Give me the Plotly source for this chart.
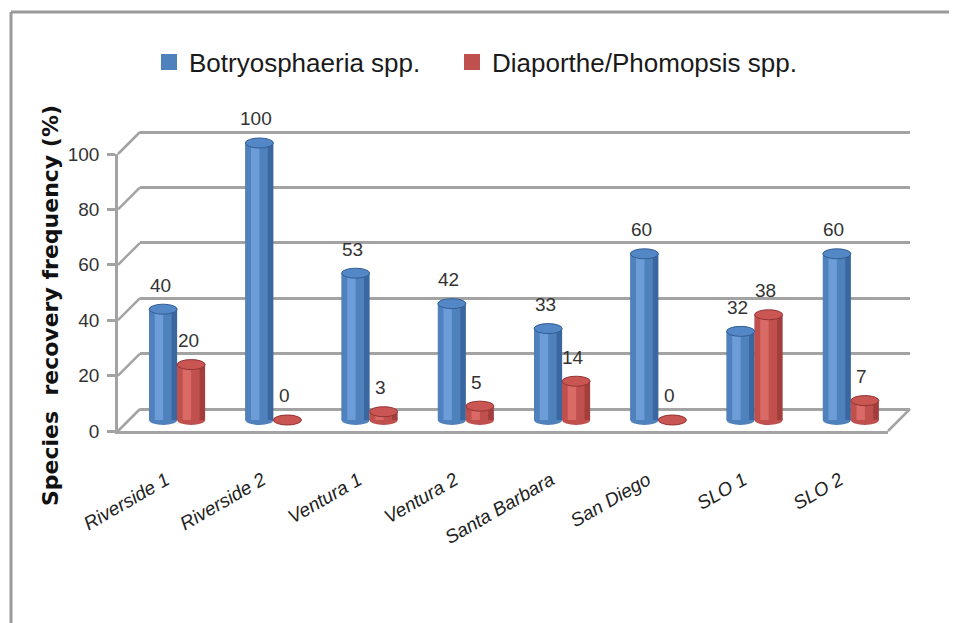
import plotly.graph_objects as go

# ---------------- data ----------------
categories = ["Riverside 1", "Riverside 2", "Ventura 1", "Ventura 2",
              "Santa Barbara", "San Diego", "SLO 1", "SLO 2"]
botryo = [40, 100, 53, 42, 33, 60, 32, 60]
diaporthe = [20, 0, 3, 5, 14, 0, 38, 7]
series_names = ["Botryosphaeria spp.", "Diaporthe/Phomopsis spp."]
y_ticks = [0, 20, 40, 60, 80, 100]
y_title = "Species\u00a0 recovery frequency (%)"

# ---------------- geometry (page pixels) ----------------
PAGE_W, PAGE_H = 957, 623
OFF = 8                          # default body margin of the html page
W, H = PAGE_W - OFF, PAGE_H - OFF
FX0, FX1 = 118, 888     # front floor x extent
FY0 = 431               # pixel row of value 0 on the front plane
K = 2.77                # pixels per unit
DEPTH = 22              # 3-D depth offset (x right, y up)
GRID = "#A3A3A3"
FONT = "Liberation Sans, Arial, sans-serif"


def px(xp):
    return (xp - OFF) / W


def py(yp):
    return 1 - (yp - OFF) / H


def dom(d, lo, hi):
    return ([px(FX0 + d), px(FX1 + d)],
            [py(FY0 - d - K * lo), py(FY0 - d - K * hi)])


back_x, back_y = dom(DEPTH, -1, 101)
mid_x, mid_y = dom(DEPTH / 2, -12, 115)
front_x, front_y = dom(0, 0, 100)

idx = list(range(len(categories)))
bw = 28 / ((FX1 - FX0) / len(categories))   # bar width in category units

styles = [
    dict(vals=botryo, off=-bw, dark="#3A679F", mid="#4F81BD", light="#6C9DD9",
         top="#5387C6", edge="#335E94", name=series_names[0], legend="legend"),
    dict(vals=diaporthe, off=0.0, dark="#A23E3B", mid="#C0504D", light="#DA6A66",
         top="#C95652", edge="#923533", name=series_names[1], legend="legend2"),
]

fig = go.Figure()
# empty trace so that the back-wall subplot is drawn
fig.add_trace(go.Scatter(x=[None], y=[None], xaxis="x", yaxis="y",
                         showlegend=False, hoverinfo="skip"))
shapes = []
annotations = []
eh = 5 / K   # ellipse half height in data units

for s in styles:
    fig.add_trace(go.Bar(x=idx, y=s["vals"], width=bw, offset=s["off"],
                         marker=dict(color=s["dark"], line=dict(width=0)),
                         showlegend=False, hoverinfo="skip",
                         xaxis="x2", yaxis="y2"))
    fig.add_trace(go.Bar(x=idx, y=s["vals"], width=bw * 0.8, offset=s["off"],
                         marker=dict(color=s["mid"], line=dict(width=0)),
                         name=s["name"], showlegend=False, legendgroup=s["name"],
                         xaxis="x2", yaxis="y2"))
    fig.add_trace(go.Bar(x=idx, y=s["vals"], width=bw * 0.3, offset=s["off"] + bw * 0.2,
                         marker=dict(color=s["light"], line=dict(width=0)),
                         showlegend=False, hoverinfo="skip",
                         xaxis="x2", yaxis="y2"))
    for i, v in zip(idx, s["vals"]):
        x0 = i + s["off"]
        x1 = x0 + bw
        # bottom ellipse
        shapes.append(dict(type="circle", xref="x2", yref="y2", x0=x0, x1=x1,
                           y0=-eh, y1=eh, fillcolor=s["mid"],
                           line=dict(width=0), layer="below"))
        # top ellipse
        shapes.append(dict(type="circle", xref="x2", yref="y2", x0=x0, x1=x1,
                           y0=v - eh, y1=v + eh, fillcolor=s["top"],
                           line=dict(width=1, color=s["edge"]), layer="above"))
        annotations.append(dict(x=(x0 + x1) / 2, y=v, xref="x2", yref="y2",
                                text=str(v), showarrow=False, yshift=24, xshift=-3,
                                font=dict(family=FONT, size=19, color="#333333")))

# legend entries (square swatches), one legend box per series
for s in styles:
    fig.add_trace(go.Scatter(x=[None], y=[None], mode="markers", name=s["name"],
                             legendgroup=s["name"], legend=s["legend"],
                             marker=dict(symbol="square", size=16, color=s["mid"],
                                         line=dict(width=0)),
                             xaxis="x2", yaxis="y2"))

fig.add_trace(go.Scatter(x=[None], y=[None], xaxis="x3", yaxis="y3",
                         showlegend=False, hoverinfo="skip"))

# 3-D frame: diagonals from front y ticks to the back wall
for v in y_ticks:
    shapes.append(dict(type="line", xref="paper", yref="paper",
                       x0=px(FX0), y0=py(FY0 - K * v),
                       x1=px(FX0 + DEPTH), y1=py(FY0 - DEPTH - K * v),
                       line=dict(color=GRID, width=2.5), layer="below"))
# right edge of the floor
shapes.append(dict(type="line", xref="paper", yref="paper",
                   x0=px(FX1), y0=py(FY0), x1=px(FX1 + DEPTH), y1=py(FY0 - DEPTH),
                   line=dict(color=GRID, width=2.5), layer="below"))
# outer border of the picture
shapes.append(dict(type="line", xref="paper", yref="paper",
                   x0=px(11), y0=py(12), x1=1.0, y1=py(12),
                   line=dict(color="#9A9A9A", width=3)))
shapes.append(dict(type="line", xref="paper", yref="paper",
                   x0=px(11), y0=py(12), x1=px(11), y1=0.0,
                   line=dict(color="#9A9A9A", width=3)))

annotations.append(dict(x=px(50), y=py(306), xref="paper", yref="paper",
                        xanchor="center", yanchor="middle",
                        text=y_title, textangle=-90, showarrow=False,
                        font=dict(family="DejaVu Sans, Verdana, sans-serif", size=22,
                                  color="#111111", weight="bold")))

plain = dict(automargin=False, showgrid=False, showticklabels=False,
             zeroline=False, showline=False, ticks="")
legend_style = dict(orientation="h", xanchor="left", y=py(62), yanchor="middle",
                    font=dict(family=FONT, size=26, color="#1A1A1A"),
                    bgcolor="rgba(0,0,0,0)", borderwidth=0)

fig.update_layout(
    template="none",
    width=W, height=H,
    margin=dict(l=0, r=0, t=0, b=0, pad=0),
    paper_bgcolor="white", plot_bgcolor="rgba(0,0,0,0)",
    barmode="overlay",
    showlegend=True,
    legend=dict(legend_style, x=px(149)),
    legend2=dict(legend_style, x=px(452)),
    shapes=shapes,
    annotations=annotations,
    # back wall (gridlines)
    xaxis=dict(plain, domain=back_x, range=[-0.5, 7.5], anchor="y"),
    yaxis=dict(plain, domain=back_y, range=[-1, 101], anchor="x", tickvals=y_ticks,
               showgrid=True, gridcolor=GRID, gridwidth=2.5),
    # bars at mid depth
    xaxis2=dict(plain, domain=mid_x, range=[-0.5, 7.5], anchor="y2"),
    yaxis2=dict(plain, domain=mid_y, range=[-12, 115], anchor="x2"),
    # front axes with labels
    xaxis3=dict(domain=front_x, range=[-0.5, 7.5], anchor="y3", showgrid=False,
                automargin=False,
                tickvals=idx, ticktext=categories, tickangle=-30,
                tickfont=dict(family=FONT, size=19, color="#222222", style="italic"),
                ticklabelstandoff=28,
                zeroline=False, showline=True, linecolor=GRID, linewidth=2.5, ticks=""),
    yaxis3=dict(domain=front_y, range=[0, 100], anchor="x3", showgrid=False,
                automargin=False,
                tickvals=y_ticks, ticks="outside", ticklen=8, tickwidth=2.5,
                tickcolor=GRID, ticklabelstandoff=4,
                tickfont=dict(family=FONT, size=19, color="#333333"),
                zeroline=False, showline=True, linecolor=GRID, linewidth=2.5),
)

fig.write_html("out.html", config={"displayModeBar": False})
